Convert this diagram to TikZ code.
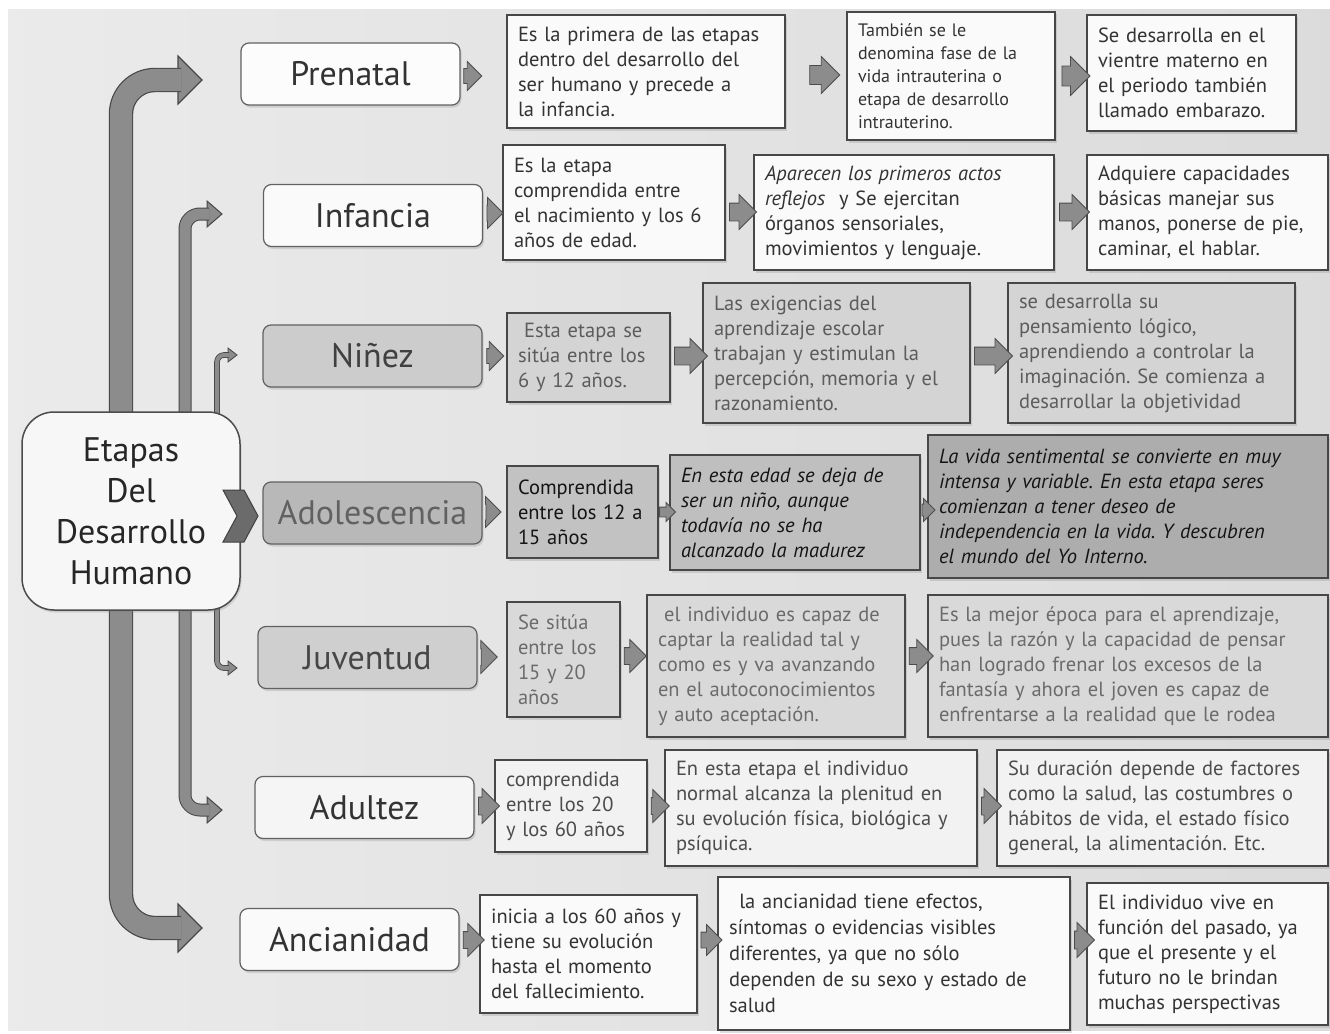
\documentclass[tikz,border=0pt]{standalone}
\usepackage{fontspec}
\setmainfont{PT Sans}
\usetikzlibrary{shapes.arrows,shadows,calc}
\frenchspacing
\tikzset{
  shd/.style={drop shadow={shadow xshift=1.5pt,shadow yshift=-2.5pt,opacity=0.25}},
  stage/.style={draw=black!62, line width=1.2pt, rounded corners=8pt, minimum width=219pt,
    minimum height=62pt, font=\fontsize{34}{38}\selectfont, text=black!80, shd},
  box/.style={draw=black!72, line width=1.6pt, align=left, inner xsep=11pt, inner ysep=2pt,
    font=\fontsize{20.5}{25}\selectfont\frenchspacing, shd},
  itbox/.style={font=\fontsize{20.5}{25}\selectfont\itshape\frenchspacing},
  wbox/.style={box, fill=black!2, text=black!80},
  gbox/.style={box, fill=black!17, text=black!64},
  dbox/.style={box, fill=black!25, text=black!92},
  jbox/.style={box, fill=black!15, text=black!58},
  sarr/.style={single arrow, draw=black!70, fill=black!45, line width=0.8pt, inner sep=0pt},
  bentline/.style={draw=black!72, line width=1.2pt, double=black!45},
  bhead/.style={fill=black!45, draw=black!72, line width=1.2pt, line join=miter},
}
\newcommand\mybox[7]{%
  \pgfmathsetmacro\bxw{#4-#2}\pgfmathsetmacro\bxh{#5-#3}\pgfmathsetmacro\bxt{#4-#2-22}%
  \node[#6, minimum width=\bxw pt, minimum height=\bxh pt, text width=\bxt pt] (#1) at ({(#2+#4)/2},{(#3+#5)/2}) {#7};}
\newcommand\sarrow[5]{%
  \pgfmathsetmacro\sas{#5*0.5}\pgfmathsetmacro\sae{#5*0.25}%
  \node[sarr, minimum height=#4pt, single arrow head extend=\sae pt] (#1) at (#2,#3) {\rule{0pt}{\sas pt}};}
\begin{document}
\begin{tikzpicture}[x=1pt,y=-1pt]
\useasboundingbox (0,0) rectangle (1330,1033);
\fill[white] (0,0) rectangle (1330,1033);
\shade[left color=black!8, right color=black!14] (8,10) rectangle (1330,1030);

% bent arrows (outer, middle, inner)
\coordinate (oT) at (181,80); \coordinate (oB) at (181,928);
\coordinate (mT) at (209,214); \coordinate (mB) at (209,810);
\coordinate (iT) at (229,355); \coordinate (iB) at (229,668);
\filldraw[bhead] (178,56)--(202,80)--(178,104)--cycle;
\filldraw[bhead] (178,904)--(202,928)--(178,952)--cycle;
\draw[bentline, double distance=22pt, rounded corners=34pt] (oT) -- (121,80) -- (121,928) -- (oB);
\filldraw[bhead, line width=1pt] (207,201)--(222,214)--(207,227)--cycle;
\filldraw[bhead, line width=1pt] (207,797)--(222,810)--(207,823)--cycle;
\draw[bentline, line width=1pt, double distance=11pt, rounded corners=15pt] (mT) -- (185,214) -- (185,810) -- (mB);
\filldraw[bhead, line width=0.8pt] (228,348)--(237,355)--(228,362)--cycle;
\filldraw[bhead, line width=0.8pt] (228,661)--(237,668)--(228,675)--cycle;
\draw[bentline, line width=0.8pt, double distance=4pt, rounded corners=7pt] (iT) -- (217,355) -- (217,668) -- (iB);

% central node
\node[draw=black!70, line width=1.5pt, fill=black!3, rounded corners=32pt, minimum width=218pt,
  minimum height=198pt, align=center, font=\fontsize{34}{41}\selectfont, text=black!85, shd]
  (c) at (131,511) {Etapas\\Del\\Desarrollo\\Humano};
\filldraw[fill=black!58, draw=black!75, line width=1pt] (223,490)--(244,490)--(258,516)--(244,542)--(223,542)--(237,516)--cycle;

% stages
\node[stage, fill=black!1] (pre) at (350.5,74) {Prenatal};
\node[stage, fill=black!2] (inf) at (373,215.5) {Infancia};
\node[stage, fill=black!20, text=black!75] (nin) at (372.5,356) {Niñez};
\node[stage, fill=black!28, text=black!62] (ado) at (372.5,513) {Adolescencia};
\node[stage, fill=black!19, text=black!72] (juv) at (367.5,657.5) {Juventud};
\node[stage, fill=black!4] (adu) at (364.5,807.5) {Adultez};
\node[stage, fill=black!2] (anc) at (349.5,939.5) {Ancianidad};

% row 1
\mybox{p1}{507}{15}{785}{128}{wbox}{Es la primera de las etapas\\dentro del desarrollo del\\ser humano y precede a\\la infancia.}
\mybox{p2}{847}{12}{1055}{140}{wbox, font=\fontsize{18}{23}\selectfont}{También se le\\denomina fase de la\\vida intrauterina o\\etapa de desarrollo\\intrauterino.}
\mybox{p3}{1087}{15}{1296}{131}{wbox}{Se desarrolla en el\\vientre materno en\\el periodo también\\llamado embarazo.}
% row 2
\mybox{i1}{503}{145}{725}{260}{wbox}{Es la etapa\\comprendida entre\\el nacimiento y los 6\\años de edad.}
\mybox{i2}{754}{155}{1054}{270}{wbox}{\textit{Aparecen los primeros actos}\\\textit{reflejos}\ \ y Se ejercitan\\órganos sensoriales,\\movimientos y lenguaje.}
\mybox{i3}{1087}{155}{1328}{270}{wbox}{Adquiere capacidades\\básicas manejar sus\\manos, ponerse de pie,\\caminar, el hablar.}
% row 3
\mybox{n1}{507}{313}{670}{402}{gbox}{\hspace*{0.3em}Esta etapa se\\sitúa entre los\\6 y 12 años.}
\mybox{n2}{703}{283}{970}{423}{gbox}{Las exigencias del\\aprendizaje escolar\\trabajan y estimulan la\\percepción, memoria y el\\razonamiento.}
\mybox{n3}{1008}{283}{1295}{423}{gbox}{se desarrolla su\\pensamiento lógico,\\aprendiendo a controlar la\\imaginación. Se comienza a\\desarrollar la objetividad}
% row 4
\mybox{a1}{507}{466}{658}{558}{dbox, fill=black!24}{Comprendida\\entre los 12 a\\15 años}
\mybox{a2}{670}{455}{920}{570}{dbox, fill=black!25, itbox}{En esta edad se deja de\\ser un niño, aunque\\todavía no se ha\\alcanzado la madurez}
\mybox{a3}{928}{435}{1328}{578}{dbox, fill=black!32, itbox}{La vida sentimental se convierte en muy\\intensa y variable. En esta etapa seres\\comienzan a tener deseo de\\independencia en la vida. Y descubren\\el mundo del Yo Interno.}
% row 5
\mybox{j1}{507}{602}{620}{717}{jbox}{Se sitúa\\entre los\\15 y 20\\años}
\mybox{j2}{647}{595}{905}{737}{jbox}{\hspace*{0.3em}el individuo es capaz de\\captar la realidad tal y\\como es y va avanzando\\en el autoconocimientos\\y auto aceptación.}
\mybox{j3}{928}{595}{1328}{737}{jbox}{Es la mejor época para el aprendizaje,\\pues la razón y la capacidad de pensar\\han logrado frenar los excesos de la\\fantasía y ahora el joven es capaz de\\enfrentarse a la realidad que le rodea}
% row 6
\mybox{d1}{495}{760}{647}{852}{wbox, fill=black!5, text=black!70}{comprendida\\entre los 20\\y los 60 años}
\mybox{d2}{665}{750}{977}{866}{wbox, fill=black!5, text=black!70}{En esta etapa el individuo\\normal alcanza la plenitud en\\su evolución física, biológica y\\psíquica.}
\mybox{d3}{997}{750}{1328}{866}{wbox, fill=black!5, text=black!70}{Su duración depende de factores\\como la salud, las costumbres o\\hábitos de vida, el estado físico\\general, la alimentación. Etc.}
% row 7
\mybox{c1}{480}{895}{697}{1013}{wbox}{inicia a los 60 años y\\tiene su evolución\\hasta el momento\\del fallecimiento.}
\mybox{c2}{718}{877}{1070}{1030}{wbox, font=\fontsize{20.5}{26}\selectfont}{\hspace*{0.5em}la ancianidad tiene efectos,\\síntomas o evidencias visibles\\diferentes, ya que no sólo\\dependen de su sexo y estado de\\salud}
\mybox{c3}{1087}{883}{1328}{1025}{wbox}{El individuo vive en\\función del pasado, ya\\que el presente y el\\futuro no le brindan\\muchas perspectivas}

% small block arrows
\sarrow{apre}{469}{76}{18}{28}
\sarrow{ap12}{820}{75}{30}{36}
\sarrow{ap23}{1071}{76}{28}{38}
\sarrow{ainf}{491}{213}{16}{30}
\sarrow{ai12}{738.5}{212}{27}{34}
\sarrow{ai23}{1070}{212}{30}{34}
\sarrow{anin}{491.5}{356}{17}{28}
\sarrow{an12}{686.5}{356}{33}{34}
\sarrow{an23}{989}{356}{38}{34}
\sarrow{aado}{489.5}{512}{15}{30}
\sarrow{aa12}{665}{512}{16}{18}
\sarrow{aa23}{925.5}{510}{13}{22}
\sarrow{ajuv}{485}{657}{16}{32}
\sarrow{aj12}{631}{656}{22}{32}
\sarrow{aj23}{917}{656}{24}{32}
\sarrow{aadu}{484.5}{806}{21}{34}
\sarrow{ad12}{656}{806}{18}{32}
\sarrow{ad23}{987}{806}{20}{34}
\sarrow{aanc}{469.5}{940}{21}{32}
\sarrow{ac12}{707.5}{940}{21}{30}
\sarrow{ac23}{1080}{940}{20}{34}
\end{tikzpicture}
\end{document}
